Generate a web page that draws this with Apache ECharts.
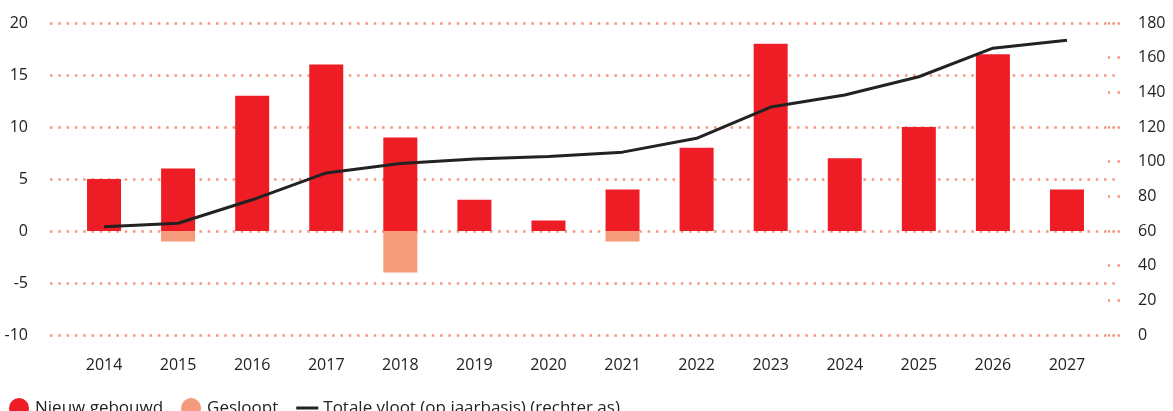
<!DOCTYPE html>
<html lang="nl">
<head>
  <meta charset="UTF-8">
  <title>Vloot: nieuw gebouwd, gesloopt en totaal</title>
  <script src="https://cdn.jsdelivr.net/npm/echarts@6/dist/echarts.min.js"></script>
  <style>
    html, body { margin: 0; padding: 0; background: #fff; }
    #chart { width: 1173px; height: 411px; }
  </style>
</head>
<body>
  <div id="chart"></div>
  <script>
    // data
    const years = ['2014', '2015', '2016', '2017', '2018', '2019', '2020',
                   '2021', '2022', '2023', '2024', '2025', '2026', '2027'];
    const nieuwGebouwd = [5, 6, 13, 16, 9, 3, 1, 4, 8, 18, 7, 10, 17, 4];
    const gesloopt = [0, -1, 0, 0, -4, 0, 0, -1, 0, 0, 0, 0, 0, 0];
    const totaleVloot = [62.5, 64.5, 78, 93.5, 99, 101.5, 103, 105.5, 113.5, 131.5, 138.5, 149, 165.5, 170];

    const red = '#EE1D25';
    const salmon = '#F59A7B';
    const dotColor = '#F4967A';
    const textColor = '#222222';
    const font = 'Open Sans';

    const chart = echarts.init(document.getElementById('chart'));

    const option = {
      animation: false,
      textStyle: { fontFamily: font },
      // grid 0 holds the data, grid 1 is a bit wider and only draws the dotted lines + labels
      grid: [
        { left: 67, right: 69, top: 23, bottom: 76 },
        { left: 50, right: 53, top: 23, bottom: 76 }
      ],
      legend: {
        left: 4,
        top: 393,
        itemWidth: 22,
        itemHeight: 20,
        itemGap: 18,
        textStyle: { fontSize: 17, color: textColor, fontFamily: font },
        data: [
          { name: 'Nieuw gebouwd', icon: 'circle' },
          { name: 'Gesloopt', icon: 'circle' },
          { name: 'Totale vloot (op jaarbasis) (rechter as)', icon: 'path://M0,0h22v3h-22z' }
        ]
      },
      xAxis: [
        {
          type: 'category',
          gridIndex: 0,
          data: years,
          axisLine: { show: false },
          axisTick: { show: false },
          axisLabel: { margin: 22, fontSize: 16, color: textColor, fontFamily: font }
        },
        { type: 'value', gridIndex: 1, show: false, min: 0, max: 1 }
      ],
      yAxis: [
        // scales used by the series
        { type: 'value', gridIndex: 0, position: 'left', min: -10, max: 20, interval: 5, show: false },
        { type: 'value', gridIndex: 0, position: 'right', min: 0, max: 180, interval: 20, show: false },
        // visible axes on the wider grid
        {
          type: 'value', gridIndex: 1, position: 'left', min: -10, max: 20, interval: 5,
          axisLine: { show: false },
          axisTick: { show: false },
          axisLabel: { margin: 22, fontSize: 16, color: textColor, fontFamily: font },
          splitLine: { lineStyle: { color: dotColor, width: 2.5, type: [2.5, 5.8] } }
        },
        {
          type: 'value', gridIndex: 1, position: 'right', min: 0, max: 180, interval: 20,
          axisLine: { show: false },
          axisTick: { show: true, inside: true, length: 12, lineStyle: { color: dotColor, width: 2.5, type: [2.5, 7.5] } },
          axisLabel: { margin: 18, fontSize: 16, color: textColor, fontFamily: font },
          splitLine: { show: false }
        }
      ],
      series: [
        {
          name: 'Nieuw gebouwd',
          type: 'bar',
          xAxisIndex: 0,
          yAxisIndex: 0,
          stack: 'vloot',
          barWidth: 34,
          itemStyle: { color: red },
          data: nieuwGebouwd
        },
        {
          name: 'Gesloopt',
          type: 'bar',
          xAxisIndex: 0,
          yAxisIndex: 0,
          stack: 'vloot',
          barWidth: 34,
          itemStyle: { color: salmon },
          data: gesloopt
        },
        {
          name: 'Totale vloot (op jaarbasis) (rechter as)',
          type: 'line',
          xAxisIndex: 0,
          yAxisIndex: 1,
          symbol: 'none',
          z: 5,
          itemStyle: { color: textColor },
          lineStyle: { color: textColor, width: 3 },
          data: totaleVloot
        }
      ]
    };

    chart.setOption(option);
  </script>
</body>
</html>
